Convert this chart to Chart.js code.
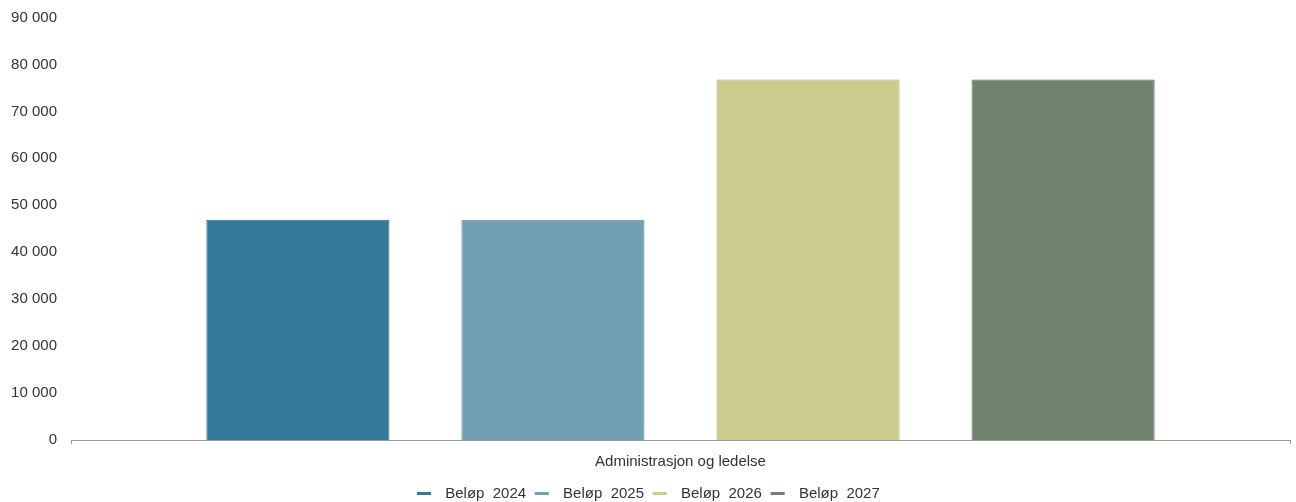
<!DOCTYPE html>
<html><head><meta charset="utf-8">
<script src="https://cdn.jsdelivr.net/npm/chart.js@4/dist/chart.umd.min.js"></script>
<style>html,body{margin:0;padding:0;background:#fff;overflow:hidden}#wrap{width:1296px;height:502px}</style>
</head><body><div id="wrap"><canvas id="c" width="1296" height="502"></canvas></div>
<script>
const categories = ["Administrasjon og ledelse"];
const seriesNames = ["Beløp  2024", "Beløp  2025", "Beløp  2026", "Beløp  2027"];
const values2024 = [46900];
const values2025 = [46900];
const values2026 = [76800];
const values2027 = [76800];
const yTicks = [0, 10000, 20000, 30000, 40000, 50000, 60000, 70000, 80000, 90000];

const fills = ["#367a99", "#6fa1b3", "#cbcb8e", "#71836f"];
const borders = ["#2f6b87", "#5f8fa0", "#b2b27a", "#5f705d"];
const allValues = [values2024, values2025, values2026, values2027];

// legend icons: 9px blank gap, then a 14x3 line, inside a 30px-wide canvas
const legendIcons = fills.map(col => {
  const cv = document.createElement('canvas');
  cv.width = 30; cv.height = 3;
  const cx = cv.getContext('2d');
  cx.fillStyle = col;
  cx.fillRect(9, 0, 14, 3);
  return cv;
});

Chart.defaults.font.family = "'Liberation Sans', Arial, sans-serif";
Chart.defaults.color = "#333";

const legendShift = {
  id: 'legendShift',
  afterLayout(chart) {
    const l = chart.legend;
    l.left -= 6; l.right -= 6;
    const h = l.height;
    l.top = 486; l.bottom = l.top + h;
  }
};

new Chart(document.getElementById('c'), {
  type: 'bar',
  data: {
    labels: categories,
    datasets: allValues.map((v, i) => ({
      label: seriesNames[i],
      data: v,
      backgroundColor: fills[i],
      borderColor: borders[i],
      borderWidth: 1,
      categoryPercentage: 0.837,
      barPercentage: 0.718
    }))
  },
  plugins: [legendShift],
  options: {
    responsive: false,
    animation: false,
    layout: { padding: { top: 0, right: 6, left: 10, bottom: 0 } },
    plugins: {
      tooltip: { enabled: false },
      legend: {
        position: 'bottom',
        labels: {
          font: { size: 15 },
          usePointStyle: true,
          pointStyleWidth: 29.5,
          boxHeight: 15,
          padding: 0,
          color: '#333',
          generateLabels: (chart) => {
            const items = Chart.defaults.plugins.legend.labels.generateLabels(chart);
            items.forEach((it, i) => { it.pointStyle = legendIcons[i]; });
            return items;
          }
        }
      }
    },
    scales: {
      x: {
        grid: { display: true, drawOnChartArea: false, drawTicks: true, tickLength: 4, color: '#999' },
        border: { display: true, color: '#999' },
        ticks: { font: { size: 15 }, color: '#333', padding: 9 },
        afterFit: (s) => { s.height = 62 - s.chart.legend.height; }
      },
      y: {
        min: 0, max: 90000,
        afterBuildTicks: (s) => { s.ticks = yTicks.map(v => ({ value: v })); },
        afterFit: (s) => { s.width = 61; s.paddingTop = 17.5; },
        grid: { display: false, drawTicks: false },
        border: { display: false },
        ticks: {
          font: { size: 15 }, color: '#333', padding: 14,
          callback: (v) => v.toString().replace(/\B(?=(\d{3})+(?!\d))/g, ' ')
        }
      }
    }
  }
});
</script></body></html>
